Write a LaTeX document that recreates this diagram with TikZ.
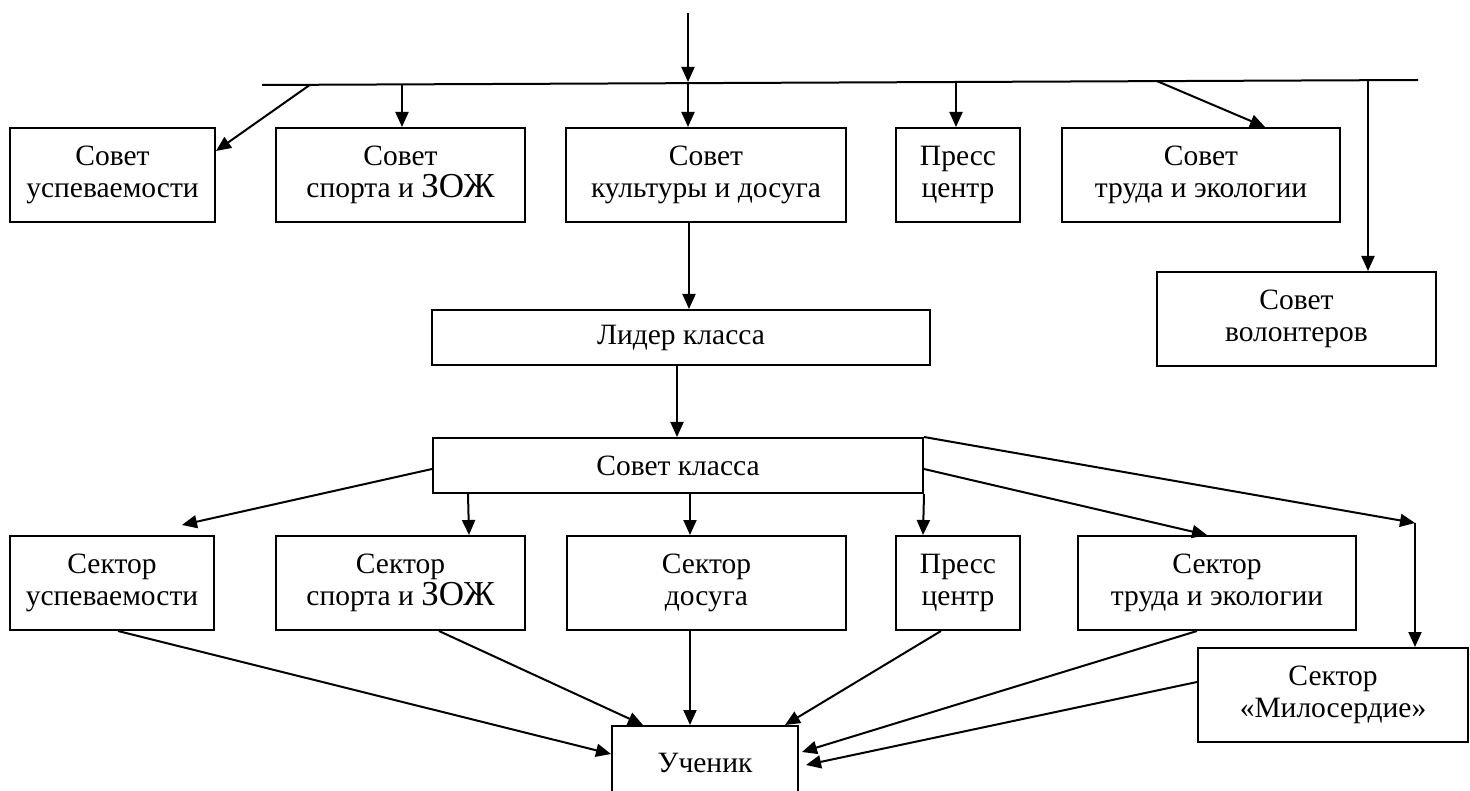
\documentclass[tikz,border=0pt]{standalone}
\usepackage{fontspec}
\setmainfont{Liberation Serif}
\usetikzlibrary{arrows.meta,calc}
\begin{document}
\begin{tikzpicture}[x=1pt,y=-1pt,line width=2pt,
  box/.style={draw,line width=2pt,rectangle,align=center,inner sep=0pt,font=\fontsize{29.5}{32}\selectfont},
  arr/.style={-{Triangle[length=15pt,width=13pt]},line width=2pt}]
\useasboundingbox (0,0) rectangle (1470,791);
\clip (0,0) rectangle (1470,791);
\newcommand{\zoj}{{\fontsize{35}{32}\selectfont ЗОЖ}}
% row 1
\node[box,minimum width=205,minimum height=94] (sU) at (112.5,175) {Совет\\успеваемости};
\node[box,minimum width=249,minimum height=94] (sS) at (400.5,175) {Совет\\спорта и \zoj};
\node[box,minimum width=280,minimum height=94] (sK) at (706,175) {Совет\\культуры и досуга};
\node[box,minimum width=124,minimum height=94] (sP) at (958,175) {Пресс\\центр};
\node[box,minimum width=278,minimum height=94] (sT) at (1201,175) {Совет\\труда и экологии};
\node[box,minimum width=279,minimum height=94] (sV) at (1296.5,319) {Совет\\волонтеров};
% middle
\node[box,minimum width=498,minimum height=55] (lid) at (681,337.5) {Лидер класса};
\node[box,minimum width=490,minimum height=55] (sk) at (678,465.5) {Совет класса};
% row 2
\node[box,minimum width=204,minimum height=94] (cU) at (112,583) {Сектор\\успеваемости};
\node[box,minimum width=249,minimum height=94] (cS) at (400.5,583) {Сектор\\спорта и \zoj};
\node[box,minimum width=279,minimum height=94] (cD) at (706.5,583) {Сектор\\досуга};
\node[box,minimum width=124,minimum height=94] (cP) at (958,583) {Пресс\\центр};
\node[box,minimum width=278,minimum height=94] (cT) at (1217,583) {Сектор\\труда и экологии};
\node[box,minimum width=270,minimum height=94] (cM) at (1333,695) {Сектор\\«Милосердие»};
\node[box,minimum width=186,minimum height=74] (uch) at (705,763) {Ученик};
% top bar
\coordinate (t0) at (688,13);
\coordinate (t1) at (688,82);
\coordinate (barL) at (262,85);
\coordinate (barR) at (1418,80);
\coordinate (b1) at (310,84.8);
\coordinate (b2) at (402,84.4);
\coordinate (b3) at (688,83.2);
\coordinate (b4) at (956,82);
\coordinate (b5) at (1157,81.1);
\coordinate (b6) at (1368,80.2);
\draw[arr] (t0) -- (t1);
\draw (barL) -- (barR);
\draw[arr] (b1) -- ($(sU.north east)+(0,24)$);
\draw[arr] (b2) -- (b2 |- sS.north);
\draw[arr] (b3) -- (b3 |- sK.north);
\draw[arr] (b4) -- (b4 |- sP.north);
\draw[arr] (b5) -- ($(sT.north)+(64,0)$);
\draw[arr] (b6) -- (b6 |- sV.north);
% middle chain
\draw[arr] ($(sK.south)+(-17,0)$) -- ($(lid.north)+(8,0)$);
\draw[arr] ($(lid.south)+(-4,0)$) -- ($(sk.north)+(-1,0)$);
% from Совет класса
\coordinate (cUtip) at (182,525);
\coordinate (mTurn) at (1415,523);
\draw[arr] ($(sk.north west)+(0,32)$) -- (cUtip);
\draw[arr] ($(sk.south west)+(36,0)$) -- ($(cS.north)+(68.5,0)$);
\draw[arr] ($(sk.south)+(12,0)$) -- ($(cD.north)+(-16.5,0)$);
\draw[arr] (sk.south east) -- ($(cP.north)+(-35,0)$);
\draw[arr] ($(sk.north east)+(0,32)$) -- ($(cT.north)+(-10,0)$);
\draw[arr] (sk.north east) -- (mTurn);
\draw[arr] (mTurn) -- (mTurn |- cM.north);
% to Ученик
\draw[arr] ($(cU.south)+(6,0)$) -- ($(uch.north west)+(0,29)$);
\draw[arr] ($(cS.south)+(38.5,0)$) -- ($(uch.north west)+(32,0)$);
\draw[arr] ($(cD.south)+(-16.5,0)$) -- ($(uch.north)+(-15,0)$);
\draw[arr] ($(cP.south)+(-17,0)$) -- ($(uch.north east)+(-14,0)$);
\draw[arr] ($(cT.south)+(-20,0)$) -- ($(uch.north east)+(3,27)$);
\draw[arr] ($(cM.north west)+(0,35)$) -- ($(uch.north east)+(7,40)$);
\end{tikzpicture}
\end{document}
